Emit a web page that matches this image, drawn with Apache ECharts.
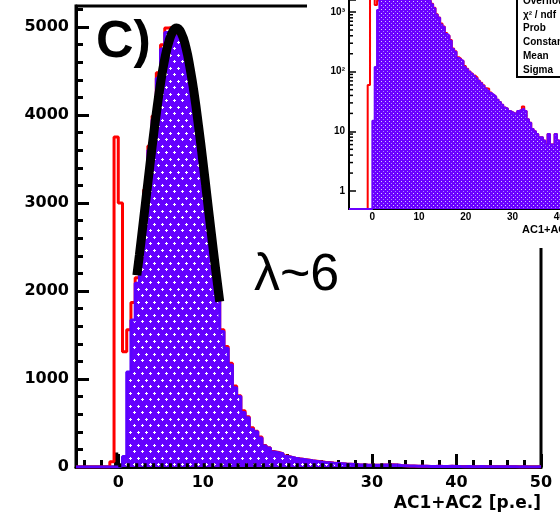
<!DOCTYPE html>
<html>
<head>
<meta charset="utf-8">
<script src="https://cdn.jsdelivr.net/npm/echarts@6/dist/echarts.min.js"></script>
<style>
  html, body { margin: 0; padding: 0; background: #fff; }
  #chart { width: 560px; height: 517px; }
</style>
</head>
<body>
<div id="chart"></div>
<script>
// AC1+AC2 photo-electron spectrum: 110 bins of 0.5 p.e. from -5 to 50
const binStart = -5;
const binWidth = 0.5;

// signal histogram (blue, filled)
const blueCounts = [
  0, 0, 0, 0, 0, 0, 0, 0, 0, 0,                               // -5 .. 0
  15, 120, 1080, 1670, 2090, 2550, 3100, 3600, 3950, 4420,    // 0 .. 5
  4750, 4940, 4950, 4900, 4880, 4700, 4450, 4150, 3850, 3500, // 5 .. 10
  3150, 2800, 2420, 1900, 1540, 1350, 1160, 900, 800, 620,    // 10 .. 15
  560, 430, 400, 330, 240, 215, 170, 160, 150, 120,           // 15 .. 20
  110, 100, 92, 85, 78, 70, 64, 58, 52, 48,                   // 20 .. 25
  44, 41, 38, 34, 31, 28, 25, 24, 22, 21,                     // 25 .. 30
  20, 20, 22, 23, 24, 22, 16, 14, 11, 10,                     // 30 .. 35
  9, 8, 8, 7, 6, 9, 6, 6, 9, 7,                               // 35 .. 40
  5, 4, 6, 3, 4, 5, 3, 2, 4, 3,                               // 40 .. 45
  2, 3, 2, 2, 1, 2, 1, 1, 1, 2                                // 45 .. 50
];

// all-events histogram (red outline), includes the pedestal spike
const redCounts = [
  0, 0, 0, 0, 0, 0, 0, 0, 60, 3750,
  3000, 1310, 1560, 1870, 2150, 2600, 3150, 3650, 3990, 4480,
  4800, 4990, 5000, 4930, 4900, 4720, 4470, 4170, 3870, 3520,
  3170, 2830, 2470, 1920, 1560, 1370, 1180, 920, 810, 640,
  570, 445, 405, 340, 245, 220, 175, 165, 152, 125,
  112, 101, 93, 86, 80, 71, 65, 59, 53, 52,
  45, 41, 38, 34, 31, 28, 25, 24, 22, 21,
  20, 20, 22, 23, 26, 22, 16, 14, 11, 10,
  9, 8, 8, 7, 6, 9, 6, 6, 9, 7,
  5, 4, 6, 3, 4, 5, 3, 2, 4, 3,
  2, 3, 2, 2, 1, 2, 1, 1, 1, 2
];

// pedestal histogram (black)
const blackCounts = [
  0, 0, 0, 0, 0, 0, 0, 0, 0, 165,
  20, 20, 20, 20, 20, 20, 20, 20, 20, 20,
  20, 20, 20, 20, 20, 20, 20, 20, 20, 20,
  20, 20, 20, 20, 20, 20, 20, 20, 20, 20,
  20, 20, 20, 20, 20, 20, 20, 20, 20, 20,
  20, 20, 20, 20, 20, 20, 20, 20, 20, 20,
  20, 20, 20, 20, 20, 20, 20, 20, 20, 20,
  20, 20, 20, 20, 20, 20, 0, 0, 0, 0,
  0, 0, 0, 0, 0, 0, 0, 0, 0, 0,
  0, 0, 0, 0, 0, 0, 0, 0, 0, 0,
  0, 0, 0, 0, 0, 0, 0, 0, 0, 0
];

// Gaussian fit over the signal peak, sampled along the curve
const fitX = [2.2, 2.5, 3, 3.5, 4, 4.5, 5, 5.5, 6, 6.5, 6.9, 7.5, 8, 8.5, 9, 9.5, 10, 10.5, 11, 11.5, 12];
const fitY = [2180, 2410, 2820, 3230, 3640, 4020, 4360, 4640, 4840, 4960, 4990, 4920, 4770, 4530, 4230, 3870, 3480, 3070, 2660, 2260, 1880];

// axis ticks
const xMajorTicks = [0, 10, 20, 30, 40, 50];
const xMinorTicks = [-4, -2, 2, 4, 6, 8, 12, 14, 16, 18, 22, 24, 26, 28, 32, 34, 36, 38, 42, 44, 46, 48];
const yMajorTicks = [0, 1000, 2000, 3000, 4000, 5000];
const yMinorTicks = [200, 400, 600, 800, 1200, 1400, 1600, 1800, 2200, 2400, 2600, 2800,
                     3200, 3400, 3600, 3800, 4200, 4400, 4600, 4800, 5200];
const insetXTicks = [0, 10, 20, 30, 40, 50];
const insetYMinor = [2, 3, 4, 5, 6, 7, 8, 9, 20, 30, 40, 50, 60, 70, 80, 90,
                     200, 300, 400, 500, 600, 700, 800, 900];
const statLabels = ['Overflow', 'χ² / ndf', 'Prob', 'Constant', 'Mean', 'Sigma'];

// histogram outline as a polyline of [x, y] pairs (bin edges)
function stepPoints(counts, floor) {
  const pts = [[binStart, floor]];
  counts.forEach(function (c, i) {
    const lo = binStart + i * binWidth;
    const v = Math.max(c, floor);
    pts.push([lo, v], [lo + binWidth, v]);
  });
  pts.push([binStart + counts.length * binWidth, floor]);
  return pts;
}

// low pedestal tail only (drawn as a dotted strip)
function tailPoints(counts) {
  const pts = [];
  counts.forEach(function (c, i) {
    if (c > 0 && c < 100) {
      const lo = binStart + i * binWidth;
      pts.push([lo, c], [lo + binWidth, c]);
    }
  });
  return pts;
}

function makeTile(w, h, draw) {
  const c = document.createElement('canvas');
  c.width = w; c.height = h;
  draw(c.getContext('2d'));
  return c;
}

const BLUE = '#6400ff';
const mainTile = makeTile(8, 13, function (g) {
  g.fillStyle = BLUE; g.fillRect(0, 0, 8, 13);
  g.fillStyle = '#ffffff';
  [[2, 3], [6, 9]].forEach(function (p) {
    g.fillRect(p[0] - 1, p[1], 3, 1);
    g.fillRect(p[0], p[1] - 1, 1, 3);
  });
});
const insetTile = makeTile(4, 4, function (g) {
  g.fillStyle = '#6a00ff'; g.fillRect(0, 0, 4, 4);
  g.fillStyle = '#d6c8ff'; g.fillRect(1, 1, 1, 1);
  g.fillStyle = '#a888ff'; g.fillRect(3, 3, 1, 1);
});

const mainGrid = { left: 76, right: 19, top: 6, bottom: 50 };
const axisFont = { color: '#000', fontFamily: 'DejaVu Sans', fontWeight: 'bold', fontSize: 16 };
const smallFont = { color: '#000', fontFamily: 'Liberation Sans', fontWeight: 'bold', fontSize: 10 };
const tickStyle = { color: '#000', width: 3 };

function plainLabel(v) { return String(v); }

function pow10Label(v) {
  const e = Math.log10(v);
  if (Math.abs(e - Math.round(e)) > 1e-6 || e < 0) return '';
  if (e === 0) return '1';
  if (e === 1) return '10';
  return '10' + ['', '', '²', '³', '⁴'][Math.round(e)];
}

const chart = echarts.init(document.getElementById('chart'), null, { renderer: 'canvas' });

chart.setOption({
  animation: false,
  backgroundColor: '#fff',
  grid: [
    Object.assign({ show: true, borderColor: '#000', borderWidth: 3, backgroundColor: 'transparent', outerBoundsMode: 'none', containLabel: false }, mainGrid),
    { left: 349, top: 0, width: 257, height: 209, show: false, outerBoundsMode: 'none', containLabel: false },
    Object.assign({ show: false, outerBoundsMode: 'none', containLabel: false }, mainGrid)
  ],
  xAxis: [
    {
      gridIndex: 0, type: 'value', min: -5, max: 50,
      axisLine: { show: true, onZero: false, lineStyle: { color: '#000', width: 3 } },
      axisTick: { show: true, inside: true, length: 13, customValues: xMajorTicks, lineStyle: tickStyle },
      axisLabel: Object.assign({ customValues: xMajorTicks, margin: 8, formatter: plainLabel }, axisFont),
      splitLine: { show: false }
    },
    {
      gridIndex: 2, type: 'value', min: -5, max: 50,
      axisLine: { show: false, onZero: false },
      axisTick: { show: true, inside: true, length: 7, customValues: xMinorTicks, lineStyle: tickStyle },
      axisLabel: { show: false },
      splitLine: { show: false }
    },
    {
      gridIndex: 1, type: 'value', min: -5, max: 50, z: 5,
      axisLine: { show: true, onZero: false, lineStyle: { color: '#000', width: 2 } },
      axisTick: { show: true, inside: true, length: 4, customValues: insetXTicks, lineStyle: { color: '#000', width: 1.5 } },
      axisLabel: Object.assign({ customValues: insetXTicks, margin: 3, formatter: plainLabel }, smallFont),
      splitLine: { show: false }
    }
  ],
  yAxis: [
    {
      gridIndex: 0, type: 'value', min: 0, max: 5240,
      axisLine: { show: true, onZero: false, lineStyle: { color: '#000', width: 3 } },
      axisTick: { show: true, inside: true, length: 13, customValues: yMajorTicks, lineStyle: tickStyle },
      axisLabel: Object.assign({ customValues: yMajorTicks, margin: 7, formatter: plainLabel }, axisFont),
      splitLine: { show: false }
    },
    {
      gridIndex: 2, type: 'value', min: 0, max: 5240,
      axisLine: { show: false, onZero: false },
      axisTick: { show: true, inside: true, length: 7, customValues: yMinorTicks, lineStyle: tickStyle },
      axisLabel: { show: false },
      splitLine: { show: false }
    },
    {
      gridIndex: 1, type: 'log', logBase: 10, min: 0.5, max: 1590, z: 5,
      axisLine: { show: true, onZero: false, lineStyle: { color: '#000', width: 2 } },
      axisTick: { show: true, inside: true, length: 7, lineStyle: { color: '#000', width: 1.5 } },
      axisLabel: Object.assign({ margin: 4, formatter: pow10Label }, smallFont),
      splitLine: { show: false }
    }
  ],
  graphic: [
    // inset pad
    { type: 'rect', z: 1, shape: { x: 307, y: 0, width: 260, height: 248 }, style: { fill: '#fff' } },
    // inset statistics box
    { type: 'rect', z: 20, shape: { x: 517, y: -6, width: 60, height: 83 }, style: { fill: '#fff', stroke: '#000', lineWidth: 2 } },
    {
      type: 'group', z: 21, children: statLabels.map(function (t, i) {
        return {
          type: 'text', z: 21,
          style: { x: 523, y: 1 + i * 13.8, text: t, fill: '#000', font: 'bold 10px "Liberation Sans"', verticalAlign: 'middle' }
        };
      })
    },
    {
      type: 'text', z: 21,
      style: { x: 522, y: 230, text: 'AC1+AC2 [p.e.]', fill: '#000', font: 'bold 11px "Liberation Sans"', verticalAlign: 'middle' }
    },
    // panel tag and annotation
    {
      type: 'text', z: 10,
      style: { x: 96, y: 43, text: 'C)', fill: '#000', font: 'bold 52px "Liberation Sans"', verticalAlign: 'middle' }
    },
    {
      type: 'text', z: 10,
      style: { x: 254, y: 276, text: 'λ~6', fill: '#000', font: '52px "Liberation Sans"', verticalAlign: 'middle' }
    },
    // main x-axis title
    {
      type: 'text', z: 10,
      style: { x: 541, y: 504, text: 'AC1+AC2 [p.e.]', fill: '#000', font: 'bold 17px "DejaVu Sans"', align: 'right', verticalAlign: 'middle' }
    }
  ],
  series: [
    // ---- main panel ----
    {
      name: 'all', type: 'line', xAxisIndex: 0, yAxisIndex: 0, z: 2,
      data: stepPoints(redCounts, 0), showSymbol: false, silent: true,
      lineStyle: { color: '#ff0000', width: 3 }
    },
    {
      name: 'pedestal', type: 'line', xAxisIndex: 0, yAxisIndex: 0, z: 2,
      data: stepPoints(blackCounts, 0), showSymbol: false, silent: true,
      lineStyle: { width: 0 }, areaStyle: { color: '#000', opacity: 1 }
    },
    {
      name: 'signal', type: 'line', xAxisIndex: 0, yAxisIndex: 0, z: 3,
      data: stepPoints(blueCounts, 0), showSymbol: false, silent: true,
      lineStyle: { color: '#5a00ff', width: 3 },
      areaStyle: { color: { image: mainTile, repeat: 'repeat' }, opacity: 1 }
    },
    {
      name: 'pedestal tail', type: 'line', xAxisIndex: 0, yAxisIndex: 0, z: 4,
      data: tailPoints(blackCounts), showSymbol: false, silent: true,
      lineStyle: { color: '#000', width: 4, type: [3, 5.45] }
    },
    {
      name: 'fit', type: 'line', xAxisIndex: 0, yAxisIndex: 0, z: 5,
      data: fitX.map(function (x, i) { return [x, fitY[i]]; }),
      smooth: true, showSymbol: false, silent: true,
      lineStyle: { color: '#000', width: 9, cap: 'butt' }
    },
    // ---- inset, log scale ----
    {
      name: 'all (log)', type: 'line', xAxisIndex: 2, yAxisIndex: 2, z: 6,
      data: stepPoints(redCounts, 0.5), showSymbol: false, silent: true,
      lineStyle: { color: '#ff0000', width: 2 }
    },
    {
      name: 'signal (log)', type: 'line', xAxisIndex: 2, yAxisIndex: 2, z: 7,
      data: stepPoints(blueCounts, 0.5), showSymbol: false, silent: true,
      lineStyle: { color: '#6a00ff', width: 2 },
      areaStyle: { origin: 'start', color: { image: insetTile, repeat: 'repeat' }, opacity: 1 }
    },
    {
      name: 'log minor ticks', type: 'custom', xAxisIndex: 2, yAxisIndex: 2, z: 8, silent: true,
      data: insetYMinor.map(function (v) { return [binStart, v]; }),
      renderItem: function (params, api) {
        const p = api.coord([api.value(0), api.value(1)]);
        return {
          type: 'line',
          shape: { x1: p[0], y1: p[1], x2: p[0] + 4, y2: p[1] },
          style: { stroke: '#000', lineWidth: 1.5 }
        };
      }
    }
  ]
});
</script>
</body>
</html>
